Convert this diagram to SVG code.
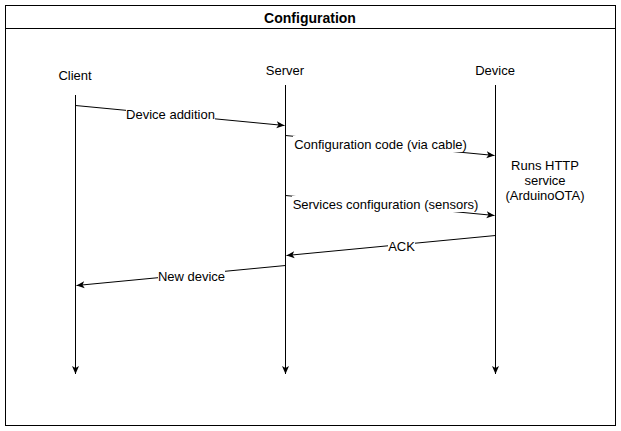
<svg xmlns="http://www.w3.org/2000/svg" width="621" height="431" viewBox="0 0 621 431">
<style>
text{font-family:"Liberation Sans",Arial,sans-serif;font-size:13px;fill:#000}
.c{text-anchor:middle}
.t{font-weight:bold;font-size:14px}
.ln{stroke:#000;stroke-width:1;fill:none}
.bg{fill:#fff}
</style>
<defs>
<marker id="ah" markerWidth="10" markerHeight="10" refX="8" refY="4" orient="auto" markerUnits="userSpaceOnUse">
<path d="M0,0.5 L8,4 L0,7.5 L2,4 Z" fill="#000"/>
</marker>
</defs>
<rect x="5.5" y="5.5" width="610" height="420" fill="#fff" stroke="#000"/>
<line x1="5.5" y1="28.5" x2="615.5" y2="28.5" stroke="#000"/>
<text class="c t" x="310" y="23">Configuration</text>
<g id="client">
<text class="c" x="75" y="80">Client</text>
<line class="ln" x1="75.5" y1="95" x2="75.5" y2="374" marker-end="url(#ah)"/>
</g>
<g id="server">
<text class="c" x="285" y="75">Server</text>
<line class="ln" x1="285.5" y1="85" x2="285.5" y2="374" marker-end="url(#ah)"/>
</g>
<g id="device">
<text class="c" x="495" y="75">Device</text>
<line class="ln" x1="495.5" y1="85" x2="495.5" y2="374" marker-end="url(#ah)"/>
</g>
<g id="note">
<text class="c" x="545" y="170">Runs HTTP</text>
<text class="c" x="545" y="185">service</text>
<text class="c" x="545" y="200">(ArduinoOTA)</text>
</g>
<g id="connectors">
<line class="ln" x1="75.5" y1="105.5" x2="284.5" y2="125.5" marker-end="url(#ah)"/>
<rect class="bg" x="126" y="106" width="89" height="16"/>
<text class="c" x="170.5" y="119">Device addition</text>
<line class="ln" x1="285.5" y1="135.5" x2="494.5" y2="155.5" marker-end="url(#ah)"/>
<rect class="bg" x="293" y="136" width="175" height="16"/>
<text class="c" x="380.5" y="149">Configuration code (via cable)</text>
<line class="ln" x1="285.5" y1="195.5" x2="494.5" y2="215.5" marker-end="url(#ah)"/>
<rect class="bg" x="292" y="196" width="187" height="16"/>
<text class="c" x="385.5" y="209">Services configuration (sensors)</text>
<line class="ln" x1="495.5" y1="235.5" x2="286.5" y2="255.5" marker-end="url(#ah)"/>
<rect class="bg" x="388" y="238" width="27" height="16"/>
<text class="c" x="401.5" y="251">ACK</text>
<line class="ln" x1="285.5" y1="265.5" x2="76.5" y2="285.5" marker-end="url(#ah)"/>
<rect class="bg" x="158" y="268" width="67" height="16"/>
<text class="c" x="191.5" y="281">New device</text>
</g>
</svg>
